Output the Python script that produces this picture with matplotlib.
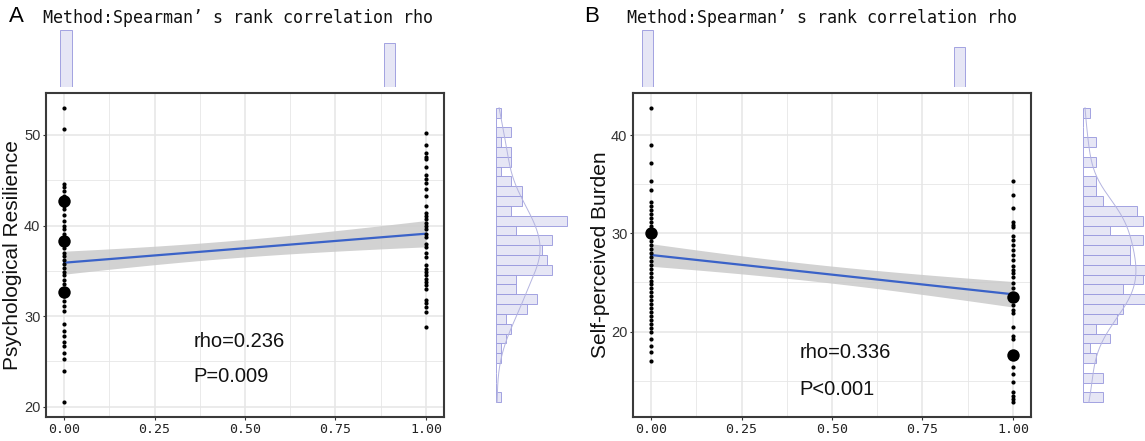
import numpy as np
import matplotlib
matplotlib.use("Agg")
import matplotlib.pyplot as plt
from matplotlib.ticker import MultipleLocator, FormatStrFormatter

W, H = 1145, 441

# ---------------- data: panel A (Psychological Resilience) ----------------
a_group0 = [53.0, 50.7, 44.6, 44.2, 43.8, 43.3, 42.7, 42.2, 41.8, 41.2, 40.5,
            40.0, 39.6, 39.1, 38.4, 37.9, 37.5, 37.0, 36.6, 36.2, 35.8, 35.3,
            34.9, 34.5, 34.0, 33.5, 33.0, 32.6, 32.2, 31.7, 31.1, 30.6, 29.1,
            28.4, 27.8, 27.2, 26.7, 25.9, 25.3, 24.0, 20.5]
a_group1 = [50.2, 48.9, 48.0, 47.6, 47.3, 46.5, 45.6, 45.1, 44.7, 44.0, 43.3,
            42.2, 41.4, 41.1, 40.7, 40.3, 40.0, 39.6, 39.1, 38.7, 38.0, 37.6,
            37.0, 36.5, 35.6, 35.2, 34.9, 34.5, 34.1, 33.8, 33.4, 33.0, 31.8,
            31.4, 31.0, 30.5, 28.8]
a_big0 = [42.7, 38.3, 32.7]
a_big1 = []
a_fit = [35.9, 39.1]          # fitted value at x = 0 and x = 1
a_ci_half = [1.27, 1.45]      # CI half-width at x = 0 and x = 1
a_group_n = [68, 52]
# right marginal histogram counts, 30 bins, top (high) -> bottom (low)
a_hist_counts = [1, 0, 3, 1, 3, 3, 1, 3, 5, 5, 3, 14, 4, 11, 9, 10, 11, 4, 4,
                 8, 6, 2, 3, 2, 1, 1, 0, 0, 0, 1]
a_ylabel = "Psychological Resilience"
a_rho = "rho=0.236"
a_p = "P=0.009"

# ---------------- data: panel B (Self-perceived Burden) ----------------
b_group0 = [42.8, 39.0, 37.2, 35.3, 34.4, 33.2, 32.8, 32.4, 32.0, 31.6, 31.2,
            30.8, 30.4, 30.0, 29.6, 29.2, 28.8, 28.4, 28.0, 27.6, 27.2, 26.8,
            26.4, 26.0, 25.6, 25.2, 24.8, 24.4, 24.0, 23.6, 23.2, 22.8, 22.4,
            22.0, 21.6, 21.2, 20.8, 20.4, 20.0, 19.2, 18.5, 17.9, 17.0]
b_group1 = [35.3, 33.9, 32.6, 31.2, 30.9, 30.7, 29.7, 29.3, 28.8, 28.3, 27.8,
            27.3, 26.7, 26.3, 26.0, 25.6, 24.9, 24.4, 23.7, 23.2, 22.7, 22.2,
            21.9, 20.5, 19.5, 19.2, 17.6, 16.4, 15.7, 14.9, 13.8, 13.4, 13.1,
            12.8]
b_big0 = [30.0]
b_big1 = [23.5, 17.6]
b_fit = [27.8, 23.8]
b_ci_half = [1.15, 1.3]
b_group_n = [70, 49]
b_hist_counts = [1, 0, 0, 2, 0, 2, 0, 2, 2, 3, 8, 9, 4, 9, 7, 7, 10, 9, 6, 10,
                 6, 5, 2, 4, 1, 2, 0, 3, 0, 3]
b_ylabel = "Self-perceived Burden"
b_rho = "rho=0.336"
b_p = "P<0.001"

title_text = "Method:Spearman\u2019 s rank correlation rho"
x_ticks = [0.0, 0.25, 0.5, 0.75, 1.0]

# ---------------- styling ----------------
BAR_FACE = "#e4e4f4"
BAR_EDGE = "#9a9ade"
LINE_BLUE = "#3a62c8"
BAND_GREY = "#cacaca"
GRID = "#e6e6e6"
SPINE = "#3a3a3a"
MONO = "DejaVu Sans Mono"
SANS = "Liberation Sans"


def px_rect(l, t, r, b):
    return [l / W, 1 - b / H, (r - l) / W, (b - t) / H]


fig = plt.figure(figsize=(W / 100, H / 100), dpi=100)
fig.patch.set_facecolor("white")


def draw_panel(main_px, top_px, right_px, right_count_px, g0, g1, big0, big1,
               fit, half, n_groups, hist_counts, ylabel, ymajor, rho, p,
               ann_xy, ylabel_x):
    ax = fig.add_axes(px_rect(*main_px))
    ymin = min(min(g0), min(g1))
    ymax = max(max(g0), max(g1))
    pad = 0.05 * (ymax - ymin)
    ax.set_ylim(ymin - pad, ymax + pad)
    ax.set_xlim(-0.05, 1.05)

    # grid
    ax.set_xticks(x_ticks)
    ax.xaxis.set_minor_locator(MultipleLocator(0.125))
    ax.yaxis.set_major_locator(MultipleLocator(ymajor))
    ax.yaxis.set_minor_locator(MultipleLocator(ymajor / 2))
    ax.grid(True, which="major", color=GRID, lw=1.1, zorder=0)
    ax.grid(True, which="minor", color=GRID, lw=0.6, zorder=0)
    ax.set_axisbelow(True)

    # band + fitted line
    xs = np.linspace(0, 1, 101)
    yfit = fit[0] * (1 - xs) + fit[1] * xs
    hw = np.sqrt(((1 - xs) * half[0]) ** 2 + (xs * half[1]) ** 2)
    ax.fill_between(xs, yfit - hw, yfit + hw, color=BAND_GREY, alpha=0.85,
                    lw=0, zorder=2)
    ax.plot(xs, yfit, color=LINE_BLUE, lw=1.6, zorder=3)

    # points
    ax.scatter(np.zeros(len(g0)), g0, s=9, color="black", lw=0, zorder=4)
    ax.scatter(np.ones(len(g1)), g1, s=9, color="black", lw=0, zorder=4)
    if big0:
        ax.scatter(np.zeros(len(big0)), big0, s=80, color="black", lw=0, zorder=5)
    if big1:
        ax.scatter(np.ones(len(big1)), big1, s=80, color="black", lw=0, zorder=5)

    for s in ax.spines.values():
        s.set_color(SPINE)
        s.set_linewidth(1.5)
    ax.tick_params(axis="both", which="minor", length=0)
    ax.tick_params(axis="both", which="major", length=2.5, width=0.8,
                   color="#333333", pad=1.5)
    ax.xaxis.set_major_formatter(FormatStrFormatter("%.2f"))
    for lab in ax.get_xticklabels():
        lab.set_fontfamily(MONO)
        lab.set_fontsize(9.5)
        lab.set_color("#222222")
    for lab in ax.get_yticklabels():
        lab.set_fontfamily(SANS)
        lab.set_fontsize(10.5)
        lab.set_color("#333333")

    # y label placed in pixel x position
    fig.text(ylabel_x / W, 1 - ((main_px[1] + main_px[3]) / 2) / H, ylabel,
             rotation=90, ha="center", va="center", fontsize=15,
             family=SANS, color="#111111")

    ax.text(ann_xy[0], ann_xy[1], rho, fontsize=14.5, family=SANS,
            ha="left", va="center", color="#111111")
    ax.text(ann_xy[0], ann_xy[2], p, fontsize=14.5, family=SANS,
            ha="left", va="center", color="#111111")

    # top marginal histogram (x)
    axt = fig.add_axes(px_rect(*top_px))
    nb = 30
    centers = np.linspace(0, 1, nb)
    counts_x = np.zeros(nb)
    counts_x[0] = n_groups[0]
    counts_x[-1] = n_groups[1]
    axt.bar(centers, counts_x, width=1 / (nb - 1), color=BAR_FACE,
            edgecolor=BAR_EDGE, lw=0.7, alpha=0.9)
    axt.set_xlim(-0.05, 1.05)
    axt.set_ylim(0, max(n_groups))
    axt.axis("off")

    # right marginal histogram (y)
    axr = fig.add_axes(px_rect(*right_px))
    counts = np.array(hist_counts[::-1], dtype=float)  # bottom -> top
    edges = np.linspace(ymin, ymax, nb + 1)
    bw = edges[1] - edges[0]
    axr.barh(edges[:-1] + bw / 2, counts, height=bw, left=0, color=BAR_FACE,
             edgecolor=BAR_EDGE, lw=0.7, alpha=0.9)
    # smoothed density derived from the histogram counts
    mids = edges[:-1] + bw / 2
    ntot = counts.sum()
    mu = (counts * mids).sum() / ntot
    sd = np.sqrt((counts * (mids - mu) ** 2).sum() / ntot)
    bwk = 1.06 * sd * ntot ** (-0.2)
    yy = np.linspace(ymin, ymax, 200)
    dens = (counts[None, :] * np.exp(-0.5 * ((yy[:, None] - mids[None, :]) / bwk) ** 2)
            ).sum(axis=1) / (ntot * bwk * np.sqrt(2 * np.pi))
    axr.plot(dens * ntot * bw, yy, color="#b4b4e0", lw=0.7)
    axr.set_ylim(ymin - pad, ymax + pad)
    axr.set_xlim(0, (right_px[2] - right_px[0]) / right_count_px)
    axr.axis("off")
    return ax


axA = draw_panel((46, 93, 444, 417), (49.8, 30, 406, 87), (496, 93, 580, 417),
                 5.1, a_group0, a_group1, a_big0, a_big1, a_fit, a_ci_half,
                 a_group_n, a_hist_counts, a_ylabel, 10, a_rho, a_p,
                 (0.358, 27.25, 23.3), 13)
axB = draw_panel((633, 93, 1031, 417), (632, 30, 975, 87), (1083, 93, 1145, 417),
                 6.7, b_group0, b_group1, b_big0, b_big1, b_fit, b_ci_half,
                 b_group_n, b_hist_counts, b_ylabel, 10, b_rho, b_p,
                 (0.41, 17.9, 14.1), 600)

# panel letters and titles
fig.text(9 / W, 1 - 17 / H, "A", fontsize=16, family=SANS, va="center", ha="left")
fig.text(43 / W, 1 - 18 / H, title_text, fontsize=12, family=MONO,
         va="center", ha="left", color="#111111")
fig.text(584 / W, 1 - 17 / H, "B", fontsize=16, family=SANS, va="center", ha="left")
fig.text(627 / W, 1 - 18 / H, title_text, fontsize=12, family=MONO,
         va="center", ha="left", color="#111111")

fig.savefig("out.png", dpi=100)
